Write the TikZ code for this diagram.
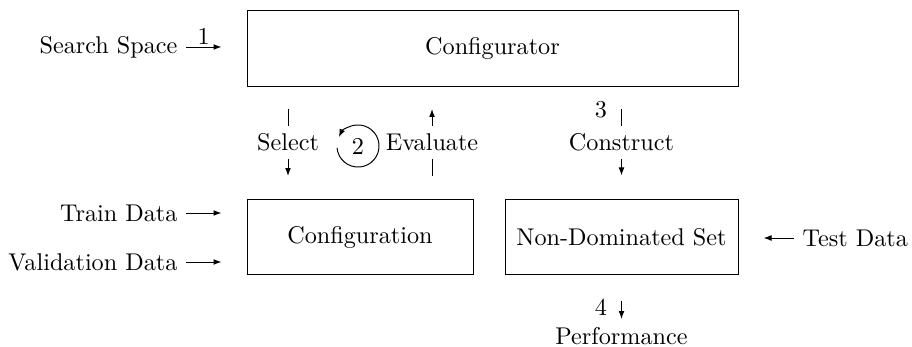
\documentclass[tikz,border=0pt]{standalone}
\usetikzlibrary{arrows.meta,calc}
\begin{document}
\begin{tikzpicture}[x=0.41322pt,y=-0.41322pt,
  arr/.style={-{Latex[length=3.3pt,width=2.4pt]}},
  block/.style={draw,minimum height=30.6pt,inner sep=0pt},
  lbl/.style={fill=white}]
\useasboundingbox (0,0) rectangle (912,347);

% boxes
\node[block,minimum width=202.9pt,minimum height=31.8pt] (cfg) at (492.5,48.5) {Configurator};
\node[block,minimum width=93.4pt] (cfgn) at (360,237) {Configuration};
\node[block,minimum width=96.3pt] (nds) at (621.5,237) {Non-Dominated Set};

% inputs and outputs
\node[anchor=east] (ss) at (186,47) {Search Space};
\node[anchor=east] (tr) at (186,213) {Train Data};
\node[anchor=east] (va) at (186,262) {Validation Data};
\node[anchor=west] (td) at (794,238) {Test Data};
\node[anchor=north] (perf) at (621.5,319) {Performance};

% free ends of the connectors
\coordinate (ssend) at ($(ss.east -| cfg.west)+(-25,0)$);
\coordinate (trend) at ($(tr.east -| cfgn.west)+(-25,0)$);
\coordinate (vaend) at ($(va.east -| cfgn.west)+(-25,0)$);
\coordinate (tdend) at ($(td.west -| nds.east)+(25,0)$);
\coordinate (s1) at (288,109);
\coordinate (s2) at (288,176);
\coordinate (e1) at (432,176);
\coordinate (e2) at (432,109);
\coordinate (c1) at ($(cfg.south -| nds.north)+(0,22)$);
\coordinate (c2) at ($(nds.north)+(0,-24)$);
\coordinate (p1) at ($(nds.south)+(0,26)$);

% connectors
\draw[arr] (ss.east) -- node[above,inner sep=1pt]{1} (ssend);
\draw[arr] (tr.east) -- (trend);
\draw[arr] (va.east) -- (vaend);
\draw[arr] (td.west) -- (tdend);
\draw[arr] (s1) -- node[lbl]{Select} (s2);
\draw[arr] (e1) -- node[lbl]{Evaluate} (e2);
\draw[arr] (c1) -- node[pos=0,left=2.5pt]{3} node[lbl]{Construct} (c2);
\draw[arr] (p1) -- node[pos=0.35,left=2.5pt]{4} (perf.north);

% iteration loop
\node (two) at (358,146) {2};
\draw[arr] ($(two.center)+(185:8.7pt)$) arc[start angle=185,end angle=515,radius=8.7pt];
\end{tikzpicture}
\end{document}
